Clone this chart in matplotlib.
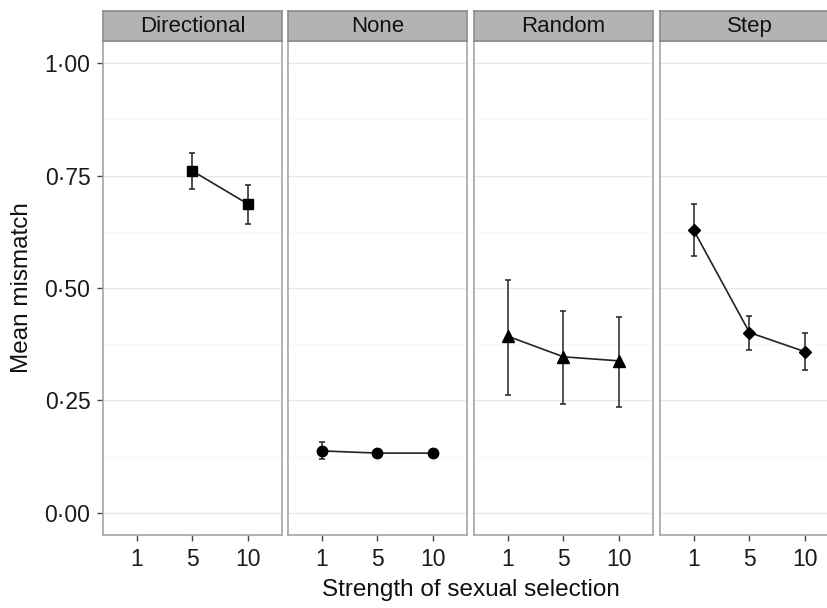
import numpy as np
import matplotlib
matplotlib.use("Agg")
import matplotlib.pyplot as plt
from matplotlib.ticker import FixedLocator, FuncFormatter

plt.rcParams['font.family'] = ['Liberation Sans', 'DejaVu Sans']

# -----------------------------
# DATA
# -----------------------------
panels = ["Directional", "None", "Random", "Step"]
strength = ["1", "5", "10"]
markers = ["s", "o", "^", "D"]
marker_sizes = [7, 7.5, 9, 6]

# mean mismatch (nan = missing), lower / upper error bar limits
means = {
    "Directional": [np.nan, 0.760, 0.686],
    "None": [0.138, 0.133, 0.133],
    "Random": [0.393, 0.347, 0.338],
    "Step": [0.629, 0.401, 0.358],
}
lower = {
    "Directional": [np.nan, 0.720, 0.642],
    "None": [0.121, 0.130, 0.130],
    "Random": [0.262, 0.242, 0.235],
    "Step": [0.572, 0.363, 0.318],
}
upper = {
    "Directional": [np.nan, 0.799, 0.730],
    "None": [0.157, 0.136, 0.136],
    "Random": [0.518, 0.449, 0.436],
    "Step": [0.686, 0.438, 0.399],
}

yticks = [0.0, 0.25, 0.5, 0.75, 1.0]

# -----------------------------
# FIGURE
# -----------------------------
W, H = 828, 608
fig = plt.figure(figsize=(W / 100, H / 100), dpi=100)

lefts = [103, 288, 474, 660]
pw = 179
top_px, bot_px, strip_px = 41, 535, 30
border = "#a6a6a6"

for i, name in enumerate(panels):
    ax = fig.add_axes([lefts[i] / W, (H - bot_px) / H, pw / W, (bot_px - top_px) / H])
    x = np.arange(1, 4)
    m = np.array(means[name])
    lo = np.array(lower[name])
    hi = np.array(upper[name])
    ok = ~np.isnan(m)

    ax.errorbar(x[ok], m[ok], yerr=[m[ok] - lo[ok], hi[ok] - m[ok]], fmt="none",
                ecolor="#222222", elinewidth=1.1, capsize=2.2, capthick=1.1, zorder=3)
    ax.plot(x[ok], m[ok], color="#222222", lw=1.2, zorder=3)
    ax.plot(x[ok], m[ok], linestyle="none", marker=markers[i], ms=marker_sizes[i],
            color="black", zorder=4)

    ax.set_xlim(0.4, 3.6)
    ax.set_ylim(-0.049, 1.049)
    ax.set_xticks(x)
    ax.set_xticklabels(strength)
    ax.yaxis.set_major_locator(FixedLocator(yticks))
    ax.yaxis.set_minor_locator(FixedLocator([0.125, 0.375, 0.625, 0.875]))
    ax.grid(axis="y", which="major", color="#e8e8e8", lw=1)
    ax.grid(axis="y", which="minor", color="#f8f8f8", lw=0.8)
    ax.set_axisbelow(True)

    for sp in ax.spines.values():
        sp.set_color(border)
        sp.set_linewidth(1.2)

    ax.tick_params(axis="x", length=4, width=1, color="#444444", labelsize=16.5,
                   labelcolor="#1a1a1a", pad=5)
    ax.tick_params(axis="y", which="minor", length=0)
    if i == 0:
        ax.yaxis.set_major_formatter(FuncFormatter(lambda v, p: f"{v:.2f}".replace(".", "\u00b7")))
        ax.tick_params(axis="y", which="major", length=4, width=1, color="#444444",
                       labelsize=16.5, labelcolor="#1a1a1a", pad=5)
    else:
        ax.tick_params(axis="y", which="major", length=0, labelleft=False)

    # strip header
    sax = fig.add_axes([lefts[i] / W, (H - top_px) / H, pw / W, strip_px / H])
    sax.set_facecolor("#b3b3b3")
    sax.set_xticks([])
    sax.set_yticks([])
    for sp in sax.spines.values():
        sp.set_color("#8c8c8c")
        sp.set_linewidth(1.2)
    sax.text(0.5, 0.47, name, ha="center", va="center", fontsize=16,
             color="#111111", transform=sax.transAxes)

fig.text(22 / W, 1 - 288 / H, "Mean mismatch", rotation=90, ha="center", va="center",
         fontsize=17.5, color="#111111")
fig.text(471 / W, 1 - 590 / H, "Strength of sexual selection", ha="center", va="center",
         fontsize=17.5, color="#111111")

fig.savefig("out.png", dpi=100, facecolor="white")
